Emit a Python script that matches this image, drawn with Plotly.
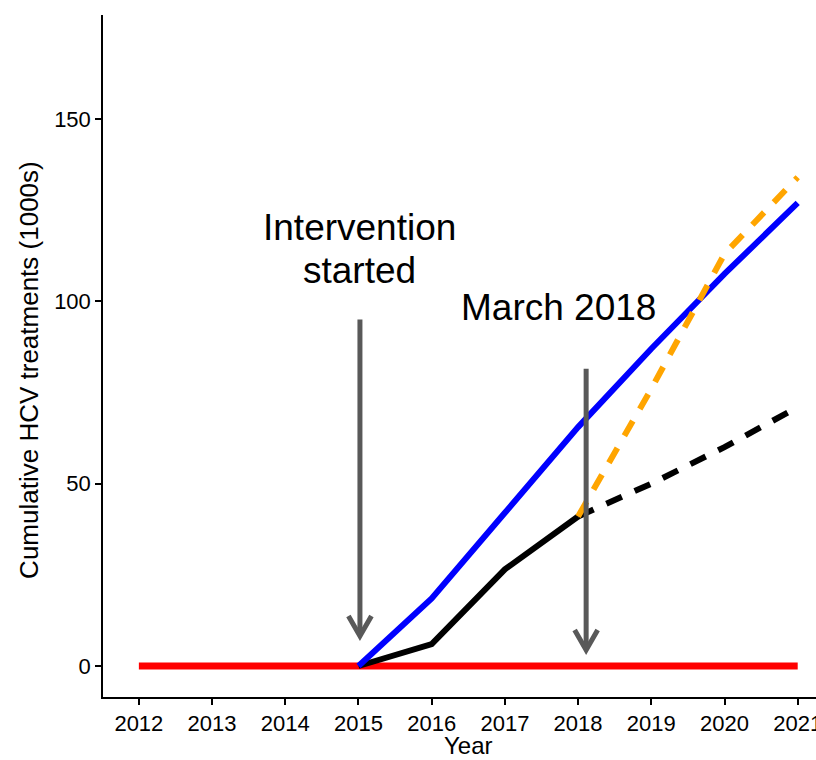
import plotly.graph_objects as go

# Data (thousands of cumulative HCV treatments)
years_base = [2012, 2013, 2014, 2015, 2016, 2017, 2018, 2019, 2020, 2021]
base_vals = [0, 0, 0, 0, 0, 0, 0, 0, 0, 0]

years_target = [2015, 2016, 2017, 2018, 2019, 2020, 2021]
target_vals = [0, 18.5, 42, 65.5, 87, 107.5, 127]

years_obs = [2015, 2016, 2017, 2018]
obs_vals = [0, 6, 26.5, 41]

years_proj = [2018, 2019, 2020, 2021]
proj_current = [41, 50, 60, 71]
proj_scaled = [41, 76, 113, 134]

tick_years = [2012, 2013, 2014, 2015, 2016, 2017, 2018, 2019, 2020, 2021]
y_ticks = [0, 50, 100, 150]

# annotation arrows: (x, y_top, y_tip)
arrow_intervention = (2015.02, 95, 8.2)
arrow_march = (2018.11, 81.5, 4.4)

FONT = "Liberation Sans, Arial, sans-serif"
GREY = "#595959"

fig = go.Figure()
fig.add_trace(go.Scatter(x=years_base, y=base_vals, mode="lines",
                         line=dict(color="#ff0000", width=7), showlegend=False))
fig.add_trace(go.Scatter(x=years_obs, y=obs_vals, mode="lines",
                         line=dict(color="#000000", width=6), showlegend=False))
fig.add_trace(go.Scatter(x=years_target, y=target_vals, mode="lines",
                         line=dict(color="#0000ff", width=6), showlegend=False))
fig.add_trace(go.Scatter(x=years_proj, y=proj_current, mode="lines",
                         line=dict(color="#000000", width=6, dash="17px,14px"), showlegend=False))
fig.add_trace(go.Scatter(x=years_proj, y=proj_scaled, mode="lines",
                         line=dict(color="#ffa500", width=6, dash="17px,14px"), showlegend=False))

# arrows as shapes (shaft + chevron head)
xr = [2011.51, 2021.25]
yr = [-8.5, 178.5]
px_w = 713 / (xr[1] - xr[0])
px_h = 682 / (yr[1] - yr[0])
head_dx = 11.5 / px_w
head_dy = 20 / px_h
shapes = []
for (ax, y0, y1) in [arrow_intervention, arrow_march]:
    shapes.append(dict(type="line", x0=ax, x1=ax, y0=y0, y1=y1 + 0.5,
                       xref="x", yref="y", line=dict(color=GREY, width=5), layer="above"))
    shapes.append(dict(type="path",
                       path=f"M {ax-head_dx} {y1+head_dy} L {ax} {y1} L {ax+head_dx} {y1+head_dy}",
                       xref="x", yref="y", line=dict(color=GREY, width=5), layer="above"))

annotations = [
    dict(x=2015.02, y=120.3, text="Intervention", showarrow=False,
         font=dict(family=FONT, size=37, color="black"), xref="x", yref="y"),
    dict(x=2015.02, y=108.5, text="started", showarrow=False,
         font=dict(family=FONT, size=37, color="black"), xref="x", yref="y"),
    dict(x=2017.73, y=98.4, text="March 2018", showarrow=False,
         font=dict(family=FONT, size=37, color="black"), xref="x", yref="y"),
    dict(x=0.512, y=-0.071, xref="paper", yref="paper", text="Year", showarrow=False,
         xanchor="center", yanchor="middle",
         font=dict(family=FONT, size=24, color="black")),
    dict(x=-0.103, y=0.479, xref="paper", yref="paper", text="Cumulative HCV treatments (1000s)",
         showarrow=False, textangle=-90, xanchor="center", yanchor="middle",
         font=dict(family=FONT, size=26, color="black")),
]

fig.update_layout(
    width=816, height=760,
    margin=dict(l=103, r=0, t=15, b=63),
    plot_bgcolor="white", paper_bgcolor="white",
    shapes=shapes, annotations=annotations,
    font=dict(family=FONT, color="black"),
    xaxis=dict(range=xr, tickvals=tick_years, ticktext=[str(t) for t in tick_years],
               showgrid=False, zeroline=False, showline=True, linecolor="black", linewidth=1.5,
               ticks="outside", ticklen=6, tickwidth=1.5, tickcolor="black",
               tickfont=dict(size=22, family=FONT, color="black"),
               automargin=False, ticklabeloverflow="allow"),
    yaxis=dict(range=yr, tickvals=y_ticks,
               showgrid=False, zeroline=False, showline=True, linecolor="black", linewidth=1.5,
               ticks="outside", ticklen=6, tickwidth=1.5, tickcolor="black",
               tickfont=dict(size=22, family=FONT, color="black"),
               automargin=False, ticklabeloverflow="allow"),
)

fig.write_html("out.html", config={"displayModeBar": False},
               post_script="document.body.style.margin='0px';document.body.style.overflow='hidden';")
